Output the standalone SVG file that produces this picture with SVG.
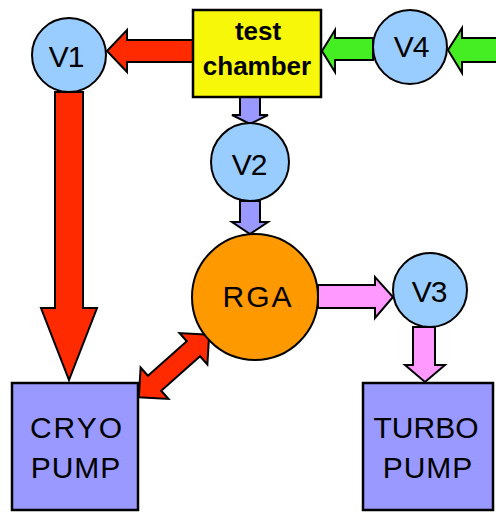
<svg xmlns="http://www.w3.org/2000/svg" width="496" height="512" viewBox="0 0 496 512">
<style>
.ar{stroke:#000;stroke-width:2;stroke-linejoin:miter}
.red{fill:#ff2a00}
.grn{fill:#44ee22}
.pur{fill:#9999ff}
.pnk{fill:#ff99ff}
.valve{fill:#99ccff;stroke:#000;stroke-width:2}
.pump{fill:#9999ff;stroke:#000;stroke-width:2.5}
.lbl{font-family:"Liberation Sans",Arial,sans-serif;font-size:30px;fill:#000;text-anchor:middle}
</style>
<rect width="496" height="512" fill="#fff"/>
<g id="connectors">
<polygon class="ar red" points="193,40 127,40 127,30 107,51 127,72 127,62 193,62"/>
<polygon class="ar red" points="55,92 55,308 41,308 69,380 97,308 83,308 83,92"/>
<polygon class="ar grn" points="373,38 335,38 335,30 322,51 335,72 335,60 373,60"/>
<polygon class="ar grn" points="498,38 462,38 462,28 448,50 462,73 462,62 498,62"/>
<polygon class="ar pur" points="240,97 240,115 232,115 250,124 268,115 260,115 260,97"/>
<polygon class="ar pur" points="240,201 240,222 232,222 250,234 268,222 260,222 260,201"/>
<polygon class="ar pnk" points="318,285 375,285 375,277 393,297 375,318 375,308 318,308"/>
<polygon class="ar pnk" points="413,327 413,365 405,365 425,382 445,365 435,365 435,327"/>
<polygon class="ar red" transform="translate(174,366) rotate(-41.6)" points="-47,0 -26,-21 -26,-10 26,-10 26,-21 47,0 26,21 26,10 -26,10 -26,21"/>
</g>
<g id="chamber">
<rect x="193" y="10" width="128" height="87" fill="#f7f70a" stroke="#000" stroke-width="2.5"/>
<text x="258" y="40" class="lbl" style="font-size:26px;font-weight:bold">test</text>
<text x="257" y="75" class="lbl" style="font-size:26px;font-weight:bold">chamber</text>
</g>
<g id="V1">
<circle class="valve" cx="69" cy="55" r="37"/>
<text x="66" y="67" class="lbl" letter-spacing="-1">V1</text>
</g>
<g id="V4">
<circle class="valve" cx="410" cy="47" r="37"/>
<text x="411" y="57" class="lbl" letter-spacing="-1">V4</text>
</g>
<g id="V2">
<circle class="valve" cx="250" cy="162" r="39"/>
<text x="249" y="175" class="lbl" letter-spacing="-1">V2</text>
</g>
<g id="RGA">
<circle cx="255" cy="297" r="63" fill="#ff9900" stroke="#000" stroke-width="2"/>
<text x="258" y="307" class="lbl" letter-spacing="2">RGA</text>
</g>
<g id="V3">
<circle class="valve" cx="430" cy="290" r="37"/>
<text x="429" y="302" class="lbl" letter-spacing="-1">V3</text>
</g>
<g id="cryo">
<rect class="pump" x="12" y="383" width="126" height="127"/>
<text x="77" y="438" class="lbl" letter-spacing="2">CRYO</text>
<text x="76" y="478" class="lbl" letter-spacing="1">PUMP</text>
</g>
<g id="turbo">
<rect class="pump" x="363" y="383" width="130" height="127"/>
<text x="426" y="438" class="lbl" letter-spacing="0">TURBO</text>
<text x="428" y="478" class="lbl" letter-spacing="1">PUMP</text>
</g>
</svg>
